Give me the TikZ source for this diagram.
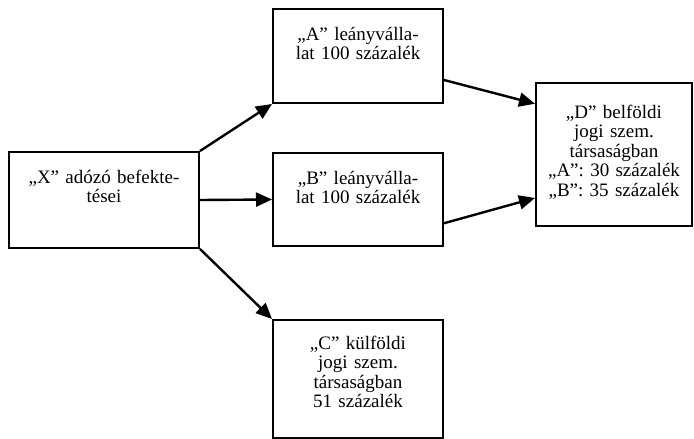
\documentclass[tikz,border=0pt]{standalone}
\usepackage{fontspec}
\setmainfont{Liberation Serif}
\usetikzlibrary{
  arrows.meta,
  positioning,
  calc
}

\begin{document}
\begin{tikzpicture}[
  x=1pt, y=-1pt,
  box/.style={draw, line width=2pt, anchor=north west, inner sep=0pt,
    align=center, font=\fontsize{19}{19.5}\selectfont, text height=31pt},
  arrow/.style={-{Triangle[length=16pt, width=14pt]}, line width=2.4pt}
]
  \useasboundingbox (0,0) rectangle (694,439);

  \node[box, text width=190pt, text depth=65pt] (x) at (8,151)
    {„X” adózó befekte-\\tései};

  \node[box, text width=170pt, text depth=63pt] (a) at (272,8)
    {„A” leányválla-\\lat 100 százalék};

  \node[box, text width=170pt, text depth=62pt] (b) at (272,152)
    {„B” leányválla-\\lat 100 százalék};

  \node[box, text width=170pt, text height=29pt, text depth=89pt] (c) at (272,319)
    {„C” külföldi\\jogi szem.\\társaságban\\51 százalék};

  \node[box, text width=156pt, text height=35pt, text depth=108pt] (d) at (535,82)
    {„D” belföldi\\jogi szem.\\társaságban\\„A”: 30 százalék\\„B”: 35 százalék};

  \draw[arrow] (x.north east) -- (a.south west);
  \draw[arrow] (x.east) -- (b.west);
  \draw[arrow] (x.south east) -- (c.north west);

  \draw[arrow] ($(a.north east)!.75!(a.south east)$) -- ($(d.north west)!.15!(d.south west)$);
  \draw[arrow] ($(b.north east)!.75!(b.south east)$) -- ($(d.north west)!.8!(d.south west)$);

\end{tikzpicture}
\end{document}
